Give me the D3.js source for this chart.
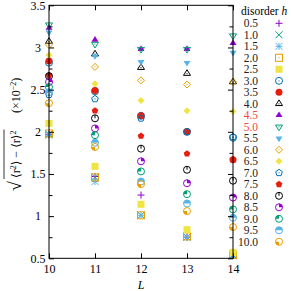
<!DOCTYPE html>
<html>
<head>
<meta charset="utf-8">
<script src="https://cdn.jsdelivr.net/npm/d3@7"></script>
<style>
  body { margin: 0; background: #fff; }
  svg { display: block; }
  text { font-family: "Liberation Serif", "DejaVu Serif", serif; }
</style>
</head>
<body>
<div id="chart"></div>
<script>
// system sizes
const sizes = [10, 11, 12, 13, 14];
const disorder = ["0.5", "1.0", "1.5", "2.0", "2.5", "3.0", "3.5", "4.0", "4.5", "5.0",
  "5.5", "6.0", "6.5", "7.0", "7.5", "8.0", "8.5", "9.0", "9.5", "10.0"];
const yTicks = [0.5, 0.75, 1, 1.25, 1.5, 1.75, 2, 2.25, 2.5, 2.75, 3, 3.25, 3.5];

// std of r (x 10^-2), one array per h, values at L = 10..14
const h0_5 = [1.97, 1.47, 1.25, 0.75, 0.54];
const h1_0 = [1.97, 1.46, 1.01, 0.75, 0.54];
const h1_5 = [1.96, 1.41, 1.01, 0.75, 0.53];
const h2_0 = [1.98, 1.46, 1.01, 0.76, 0.54];
const h2_5 = [2.10, 1.59, 1.14, 0.84, 0.57];
const h3_0 = [2.82, 2.48, 2.19, 2.00, 1.93];
const h3_5 = [2.84, 2.49, 2.19, 2.00, 1.67];
const h4_0 = [3.07, 2.92, 2.76, 2.69, 2.59];
const h4_5 = [3.23, 3.09, 2.98, 2.98, 3.05];
const h5_0 = [3.27, 3.04, 2.98, 2.98, 3.14];
const h5_5 = [3.18, 2.90, 2.83, 2.82, 2.94];
const h6_0 = [3.03, 2.77, 2.61, 2.56, 2.59];
const h6_5 = [2.91, 2.57, 2.37, 2.25, 2.24];
const h7_0 = [2.44, 2.39, 2.16, 2.00, 1.94];
const h7_5 = [2.67, 2.25, 1.95, 1.74, 1.67];
const h8_0 = [2.66, 2.16, 1.80, 1.55, 1.42];
const h8_5 = [2.59, 2.04, 1.65, 1.39, 1.22];
const h9_0 = [2.53, 1.96, 1.53, 1.26, 1.08];
const h9_5 = [2.47, 1.87, 1.41, 1.15, 0.98];
const h10_0 = [2.34, 1.82, 1.38, 1.06, 0.87];

const seriesValues = [h0_5, h1_0, h1_5, h2_0, h2_5, h3_0, h3_5, h4_0, h4_5, h5_0,
  h5_5, h6_0, h6_5, h7_0, h7_5, h8_0, h8_5, h9_0, h9_5, h10_0];

// gnuplot colour cycle + point types
const colors = ["#9400d3", "#009e73", "#56b4e9", "#e69f00", "#f0e442", "#0072b2", "#e51e10", "#000000"];
const pointTypes = ["Pls", "Crs", "Star", "Box", "BoxF", "Circle", "CircleF", "TriU", "TriUF", "TriD",
  "TriDF", "Dia", "DiaF", "Pent", "PentF", "C0", "C1", "C2", "C3", "C4"];

const W = 291, H = 291;
const plot = { left: 49, right: 233, top: 5.3, bottom: 258.3 };
const hpt = 3.5;

const svg = d3.select("#chart").append("svg").attr("width", W).attr("height", H);

const x = d3.scaleLinear().domain([10, 14]).range([plot.left, plot.right]);
const y = d3.scaleLinear().domain([0.5, 3.5]).range([plot.bottom, plot.top]);

const arc = d3.arc();

// draws one gnuplot-style point into g at (0,0)
function drawPoint(g, type, color) {
  const s = hpt;
  const line = (pts) => "M" + pts.map((p) => p.join(",")).join("L");
  const dot = () => g.append("circle").attr("r", 0.6).attr("fill", color);
  const stroke = (el) => el.attr("fill", "none").attr("stroke", color).attr("stroke-width", 1);
  if (type === "Pls") {
    stroke(g.append("path").attr("d", line([[-s, 0], [s, 0]]) + line([[0, -s], [0, s]])));
  } else if (type === "Crs") {
    stroke(g.append("path").attr("d", line([[-s, -s], [s, s]]) + line([[-s, s], [s, -s]])));
  } else if (type === "Star") {
    stroke(g.append("path").attr("d", line([[-s, 0], [s, 0]]) + line([[0, -s], [0, s]]) +
      line([[-s, -s], [s, s]]) + line([[-s, s], [s, -s]])));
  } else if (type === "Box" || type === "BoxF") {
    const r = g.append("rect").attr("x", -s).attr("y", -s).attr("width", 2 * s).attr("height", 2 * s);
    if (type === "Box") { stroke(r); dot(); } else r.attr("fill", color);
  } else if (type === "Circle" || type === "CircleF") {
    const c = g.append("circle").attr("r", s);
    if (type === "Circle") { stroke(c); dot(); } else c.attr("fill", color);
  } else if (type.startsWith("Tri")) {
    const up = type.startsWith("TriU") ? 1 : -1;
    const p = g.append("path").attr("d", line([[0, -1.12 * s * up], [-s, 0.5 * s * up], [s, 0.5 * s * up]]) + "Z");
    if (type.endsWith("F")) p.attr("fill", color); else { stroke(p); dot(); }
  } else if (type === "Dia" || type === "DiaF") {
    const p = g.append("path").attr("d", line([[-s, 0], [0, -s], [s, 0], [0, s]]) + "Z");
    if (type === "DiaF") p.attr("fill", color); else { stroke(p); dot(); }
  } else if (type === "Pent" || type === "PentF") {
    const pts = d3.range(5).map((k) => {
      const a = (k * 72) * Math.PI / 180;
      return [s * Math.sin(a), -s * Math.cos(a)];
    });
    const p = g.append("path").attr("d", line(pts) + "Z");
    if (type === "PentF") p.attr("fill", color); else { stroke(p); dot(); }
  } else if (type.startsWith("C")) {
    // circles with filled quadrants (postscript C0..C4)
    const quad = { C1: [[0, 90]], C2: [[90, 180]], C3: [[0, 180]], C4: [[180, 270]] }[type] || [];
    quad.forEach(([a0, a1]) => {
      // ps angles ccw from +x; d3 arc angles cw from 12 o'clock
      g.append("path")
        .attr("d", arc({ innerRadius: 0, outerRadius: s, startAngle: (90 - a1) * Math.PI / 180, endAngle: (90 - a0) * Math.PI / 180 }))
        .attr("fill", color);
    });
    stroke(g.append("circle").attr("r", s));
    if (type === "C0") stroke(g.append("path").attr("d", line([[0, 0], [0, -s]])));
  }
}

// data points
const pts = svg.append("g");
seriesValues.forEach((vals, i) => {
  const gs = pts.append("g");
  vals.forEach((v, j) => {
    const g = gs.append("g").attr("transform", `translate(${x(sizes[j])},${y(v)})`);
    drawPoint(g, pointTypes[i], colors[i % colors.length]);
  });
});

// border + ticks in front
const fontSize = 12;
svg.append("rect")
  .attr("x", plot.left).attr("y", plot.top)
  .attr("width", plot.right - plot.left).attr("height", plot.bottom - plot.top)
  .attr("fill", "none").attr("stroke", "#000").attr("stroke-width", 1);

const isMajor = (v) => Math.abs(v * 2 - Math.round(v * 2)) < 1e-6;

const yAxis = d3.axisLeft(y).tickValues(yTicks).tickSize(-5).tickPadding(3)
  .tickFormat((v) => (isMajor(v) ? String(+v.toFixed(2)) : ""));
svg.append("g").attr("transform", `translate(${plot.left},0)`).call(yAxis)
  .call((g) => g.select(".domain").remove())
  .call((g) => g.selectAll(".tick text").attr("text-anchor", "middle").attr("x", -11)
    .attr("fill", "#000").style("font-size", fontSize + "px"))
  .call((g) => g.selectAll(".tick line").attr("x2", (v) => (isMajor(v) ? 5 : 3.5)));

svg.append("g").attr("transform", `translate(${plot.right},0)`)
  .call(d3.axisRight(y).tickValues(yTicks).tickSize(-5).tickFormat(""))
  .call((g) => g.select(".domain").remove())
  .call((g) => g.selectAll(".tick line").attr("x2", (v) => (isMajor(v) ? -5 : -3.5)));

svg.append("g").attr("transform", `translate(0,${plot.bottom})`)
  .call(d3.axisBottom(x).tickValues(sizes).tickSize(-5).tickFormat(d3.format("d")))
  .call((g) => g.select(".domain").remove())
  .call((g) => g.selectAll(".tick text").attr("y", 15).attr("dy", null).attr("fill", "#000")
    .style("font-size", fontSize + "px"));

svg.append("g").attr("transform", `translate(0,${plot.top})`)
  .call(d3.axisTop(x).tickValues(sizes).tickSize(-5).tickFormat(""))
  .call((g) => g.select(".domain").remove());

// x label
svg.append("text").attr("x", (plot.left + plot.right) / 2).attr("y", 289)
  .attr("text-anchor", "middle").style("font-size", fontSize + "px").style("font-style", "italic").text("L");

// y label (rotated)
const yl = svg.append("g").attr("transform", "translate(17,131) rotate(-90)");
yl.append("text").attr("x", -60).attr("y", 4).style("font-size", "18px").text("\u221a");
const rad = yl.append("text").attr("x", -47).attr("y", 3).style("font-size", fontSize + "px");
rad.append("tspan").text("\u27e8r");
rad.append("tspan").attr("dy", -4).style("font-size", "8px").text("2");
rad.append("tspan").attr("dy", 4).text("\u27e9 \u2212 \u27e8r\u27e9");
rad.append("tspan").attr("dy", -4).style("font-size", "8px").text("2");
const radLen = rad.node().getComputedTextLength();
yl.append("line").attr("x1", -48).attr("x2", -47 + radLen + 1).attr("y1", -13).attr("y2", -13)
  .attr("stroke", "#000").attr("stroke-width", 0.8);
const unit = yl.append("text").attr("x", 18).attr("y", 3).style("font-size", fontSize + "px");
unit.append("tspan").text("(\u00d710");
unit.append("tspan").attr("dy", -4).style("font-size", "8px").text("\u22122");
unit.append("tspan").attr("dy", 4).text(")");

// legend
const legX = 258, legMark = 279, legTop = 23.3, legStep = 11.5, legFont = 11.5;
svg.append("text").attr("x", 241).attr("y", 15).style("font-size", legFont + "px")
  .call((t) => { t.append("tspan").text("disorder "); t.append("tspan").style("font-style", "italic").text("h"); });
disorder.forEach((h, i) => {
  const yy = legTop + i * legStep;
  svg.append("text").attr("x", legX).attr("y", yy + 4).attr("text-anchor", "end")
    .style("font-size", legFont + "px")
    .attr("fill", h === "4.5" || h === "5.0" ? "#f04848" : "#222")
    .text(h);
  const g = svg.append("g").attr("transform", `translate(${legMark},${yy})`);
  drawPoint(g, pointTypes[i], colors[i % colors.length]);
});
</script>
</body>
</html>
